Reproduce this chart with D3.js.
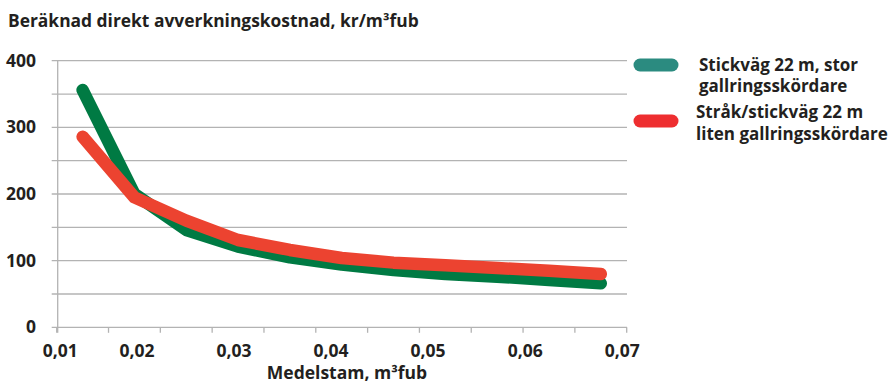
<!DOCTYPE html>
<html>
<head>
<meta charset="utf-8">
<script src="https://cdn.jsdelivr.net/npm/d3@7"></script>
<style>
  html, body { margin: 0; padding: 0; background: #fff; }
  svg { display: block; }
  text { font-family: "Open Sans", "Noto Sans", sans-serif; font-weight: 700; fill: #231f20; }
</style>
</head>
<body>
<svg id="chart" width="892" height="383"></svg>
<script>
// ---- data ----
const medelstam = [0.0146, 0.0200, 0.0253, 0.0306, 0.0360, 0.0413, 0.0467, 0.0520, 0.0573, 0.0627, 0.0680];
const storSkordare  = [356, 200, 146, 121, 105, 94, 86, 80, 76, 71, 66];
const litenSkordare = [286, 195, 160, 131, 116, 104, 97, 93, 89, 85, 80];
const seriesNames = [["Stickväg 22 m, stor", "gallringsskördare"], ["Stråk/stickväg 22 m", "liten gallringsskördare"]];
const xTickValues = [0.01, 0.02, 0.03, 0.04, 0.05, 0.06, 0.07];
const xTickLabels = ["0,01", "0,02", "0,03", "0,04", "0,05", "0,06", "0,07"];
const yTickValues = [0, 100, 200, 300, 400];
const yGridValues = [0, 50, 100, 150, 200, 250, 300, 350, 400];
const titleText = "Beräknad direkt avverkningskostnad, kr/m³fub";
const xTitleText = "Medelstam, m³fub";

// ---- layout ----
const svg = d3.select("#chart");
const plot = { left: 57.7, right: 627, top: 60.7, bottom: 327.3 };
const gridColor = "#b3b3b3";
const lineColors = ["#007a43", "#ec4330"];
const legendColors = ["#2b8b80", "#ee2e30"];

const x = d3.scaleBand().domain(medelstam).range([56.7, 626.7]).paddingInner(0).paddingOuter(0);
const bw = x.bandwidth();
const cx = d => x(d) + bw / 2;
const y = d3.scaleLinear().domain([0, 400]).range([plot.bottom, plot.top]);
const xLab = d3.scaleLinear()
  .domain([medelstam[0], medelstam[medelstam.length - 1]])
  .range([cx(medelstam[0]), cx(medelstam[medelstam.length - 1])]);

// title
svg.append("text").attr("x", 8).attr("y", 26.5).attr("font-size", 17.4).text(titleText);

// horizontal grid
svg.append("g").selectAll("line").data(yGridValues).join("line")
  .attr("x1", plot.left - 6).attr("x2", plot.right)
  .attr("y1", d => y(d)).attr("y2", d => y(d))
  .attr("stroke", gridColor).attr("stroke-width", 1.3);

// y axis line
svg.append("line").attr("x1", plot.left).attr("x2", plot.left)
  .attr("y1", y(400)).attr("y2", y(0) + 5.5)
  .attr("stroke", gridColor).attr("stroke-width", 1.3);

// x ticks at category boundaries
const boundaries = medelstam.map(d => x(d)).concat([x(medelstam[medelstam.length - 1]) + bw]);
svg.append("g").selectAll("line").data(boundaries).join("line")
  .attr("x1", d => d).attr("x2", d => d)
  .attr("y1", y(0)).attr("y2", y(0) + 5.5)
  .attr("stroke", gridColor).attr("stroke-width", 1.3);

// y labels
svg.append("g").selectAll("text").data(yTickValues).join("text")
  .attr("x", 36).attr("y", d => y(d) + 6)
  .attr("text-anchor", "end").attr("font-size", 17.5)
  .text(d => d);

// x labels
svg.append("g").selectAll("text").data(xTickValues).join("text")
  .attr("x", d => Math.max(xLab(d) + 2, plot.left + 2.5)).attr("y", 356.5)
  .attr("text-anchor", "middle").attr("font-size", 17.5)
  .text((d, i) => xTickLabels[i]);

// x title
svg.append("text").attr("x", 347).attr("y", 378.5).attr("text-anchor", "middle")
  .attr("font-size", 17.5).text(xTitleText);

// lines
const line = d3.line().x((d, i) => cx(medelstam[i])).y(d => y(d));
[storSkordare, litenSkordare].forEach((s, k) => {
  svg.append("path").datum(s).attr("d", line)
    .attr("fill", "none").attr("stroke", lineColors[k]).attr("stroke-width", 12.5)
    .attr("stroke-linecap", "round").attr("stroke-linejoin", "round");
});

// legend
const legendY = [65, 121];
const legendTextY = [70.7, 118];
const legendTextX = [699, 696];
seriesNames.forEach((lines, k) => {
  svg.append("line").attr("x1", 640).attr("x2", 672)
    .attr("y1", legendY[k]).attr("y2", legendY[k])
    .attr("stroke", legendColors[k]).attr("stroke-width", 13).attr("stroke-linecap", "round");
  const t = svg.append("text").attr("x", legendTextX[k]).attr("y", legendTextY[k]).attr("font-size", 17);
  lines.forEach((ln, j) => {
    t.append("tspan").attr("x", legendTextX[k]).attr("dy", j === 0 ? 0 : 21.7).text(ln);
  });
});
</script>
</body>
</html>
